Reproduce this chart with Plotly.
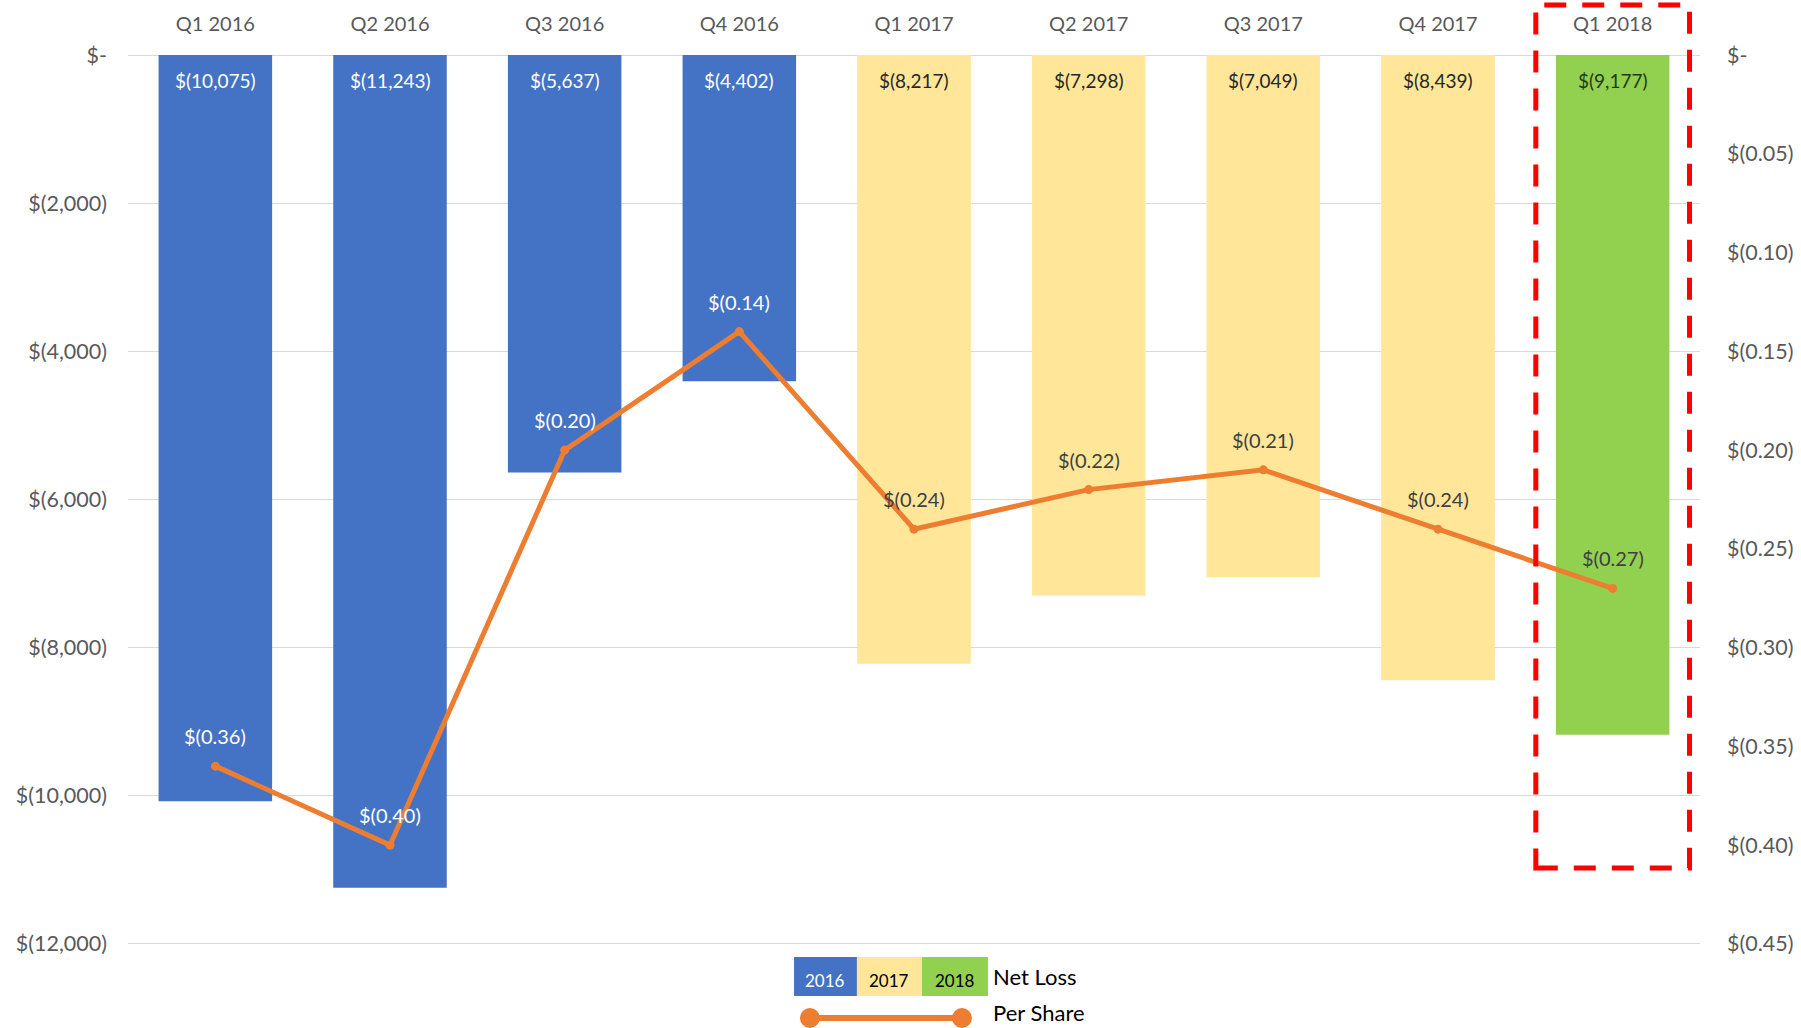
import plotly.graph_objects as go

# ---- data ----
quarters = ["Q1 2016", "Q2 2016", "Q3 2016", "Q4 2016",
            "Q1 2017", "Q2 2017", "Q3 2017", "Q4 2017", "Q1 2018"]
years = [2016, 2016, 2016, 2016, 2017, 2017, 2017, 2017, 2018]
net_loss = [-10075, -11243, -5637, -4402, -8217, -7298, -7049, -8439, -9177]
per_share = [-0.36, -0.40, -0.20, -0.14, -0.24, -0.22, -0.21, -0.24, -0.27]

left_tickvals = [0, -2000, -4000, -6000, -8000, -10000, -12000]
left_ticktext = ["$-", "$(2,000)", "$(4,000)", "$(6,000)", "$(8,000)", "$(10,000)", "$(12,000)"]
right_tickvals = [0, -0.05, -0.10, -0.15, -0.20, -0.25, -0.30, -0.35, -0.40, -0.45]
right_ticktext = ["$-", "$(0.05)", "$(0.10)", "$(0.15)", "$(0.20)", "$(0.25)",
                  "$(0.30)", "$(0.35)", "$(0.40)", "$(0.45)"]

legend_years = [2016, 2017, 2018]

# ---- styles ----
FONT = "Lato"
year_color = {2016: "#4472C4", 2017: "#FFE699", 2018: "#92D050"}
year_text = {2016: "#FFFFFF", 2017: "#262626", 2018: "#1F3A0E"}
year_line_text = {2016: "#FFFFFF", 2017: "#404040", 2018: "#404040"}
ORANGE = "#ED7D31"

# slight padding so the edge gridlines are drawn
Y_MIN, Y_MAX = -12000, 0
Y2_MIN, Y2_MAX = -0.45, 0
pad = 15
y_range = [Y_MIN - pad, Y_MAX + pad]
k = (Y2_MAX - Y2_MIN) / (Y_MAX - Y_MIN)
y2_range = [Y2_MIN - pad * k, Y2_MAX + pad * k]

def money(v):
    return "$(" + f"{abs(v):,}" + ")"

fig = go.Figure()

fig.add_trace(go.Bar(
    x=quarters, y=net_loss,
    marker=dict(color=[year_color[y] for y in years], line=dict(width=0)),
    yaxis="y", showlegend=False, hoverinfo="skip",
))

fig.add_trace(go.Scatter(
    x=quarters, y=per_share, yaxis="y2", mode="lines+markers",
    line=dict(color=ORANGE, width=5),
    marker=dict(color=ORANGE, size=9),
    showlegend=False, hoverinfo="skip",
))

annotations = []
# bar value labels just inside the top of each bar
for q, v, yr in zip(quarters, net_loss, years):
    annotations.append(dict(
        x=q, y=0, xref="x", yref="y", yshift=-25, yanchor="middle",
        showarrow=False, text=money(v),
        font=dict(family=FONT, size=19, color=year_text[yr]),
    ))
# per-share labels above each point
for q, v, yr in zip(quarters, per_share, years):
    annotations.append(dict(
        x=q, y=v, xref="x", yref="y2", yshift=30, yanchor="middle",
        showarrow=False, text=f"$({abs(v):.2f})",
        font=dict(family=FONT, size=20, color=year_line_text[yr]),
    ))

shapes = []
# highlight box around last quarter
n = len(quarters)
shapes.append(dict(
    type="rect", xref="x", yref="paper",
    x0=n - 1 - 0.44, x1=n - 1 + 0.44, y0=0.0864, y1=1.055,
    line=dict(color="#FF0000", width=5, dash="22px,16px"),
    fillcolor="rgba(0,0,0,0)", layer="above",
))

# custom legend
bx = [0.4237, 0.4637, 0.5051, 0.5471]
ly0, ly1 = -0.0572, -0.01347
for i, yr in enumerate(legend_years):
    shapes.append(dict(type="rect", xref="paper", yref="paper",
                       x0=bx[i], x1=bx[i + 1], y0=ly0, y1=ly1,
                       fillcolor=year_color[yr], line=dict(width=0)))
    annotations.append(dict(xref="paper", yref="paper",
                            x=(bx[i] + bx[i + 1]) / 2, y=(ly0 + ly1) / 2 - 0.004,
                            xanchor="center", yanchor="middle",
                            text=str(yr), showarrow=False,
                            font=dict(family=FONT, size=17,
                                      color="#FFFFFF" if yr == 2016 else "#000000")))
annotations.append(dict(xref="paper", yref="paper", x=bx[-1] + 0.002, y=-0.0348,
                        xanchor="left", yanchor="middle", text="Net Loss", showarrow=False,
                        font=dict(family=FONT, size=22, color="#000000")))
ps_y = -0.0819
ps_x0, ps_x1 = 0.4338, 0.5305
shapes.append(dict(type="line", xref="paper", yref="paper",
                   x0=ps_x0, x1=ps_x1, y0=ps_y, y1=ps_y,
                   line=dict(color=ORANGE, width=6)))
for px in (ps_x0, ps_x1):
    shapes.append(dict(type="circle", xref="paper", yref="paper",
                       xsizemode="pixel", ysizemode="pixel",
                       xanchor=px, yanchor=ps_y, x0=-10, x1=10, y0=-10, y1=10,
                       fillcolor=ORANGE, line=dict(width=0)))
annotations.append(dict(xref="paper", yref="paper", x=bx[-1] + 0.002, y=-0.0763,
                        xanchor="left", yanchor="middle", text="Per Share", showarrow=False,
                        font=dict(family=FONT, size=22, color="#000000")))

fig.update_layout(
    width=1801, height=1028,
    margin=dict(l=128, r=101, t=54, b=83),
    paper_bgcolor="white", plot_bgcolor="white",
    bargap=0.35,
    font=dict(family=FONT, color="#595959"),
    xaxis=dict(side="top", showgrid=False, showline=False, zeroline=False,
               tickfont=dict(family=FONT, size=20, color="#595959"),
               ticks="", ticklabelstandoff=18, automargin=False),
    yaxis=dict(range=y_range, tickvals=left_tickvals, ticktext=left_ticktext,
               showgrid=True, gridcolor="#D9D9D9", gridwidth=1,
               zeroline=False, showline=False, ticks="",
               tickfont=dict(family=FONT, size=21.5, color="#595959"),
               ticklabelstandoff=20, automargin=False),
    yaxis2=dict(range=y2_range, tickvals=right_tickvals, ticktext=right_ticktext,
                overlaying="y", side="right", showgrid=False, zeroline=False,
                showline=False, ticks="",
                tickfont=dict(family=FONT, size=21.5, color="#595959"),
                ticklabelstandoff=26, automargin=False),
    shapes=shapes, annotations=annotations,
    showlegend=False,
)

fig.write_html("out.html")
